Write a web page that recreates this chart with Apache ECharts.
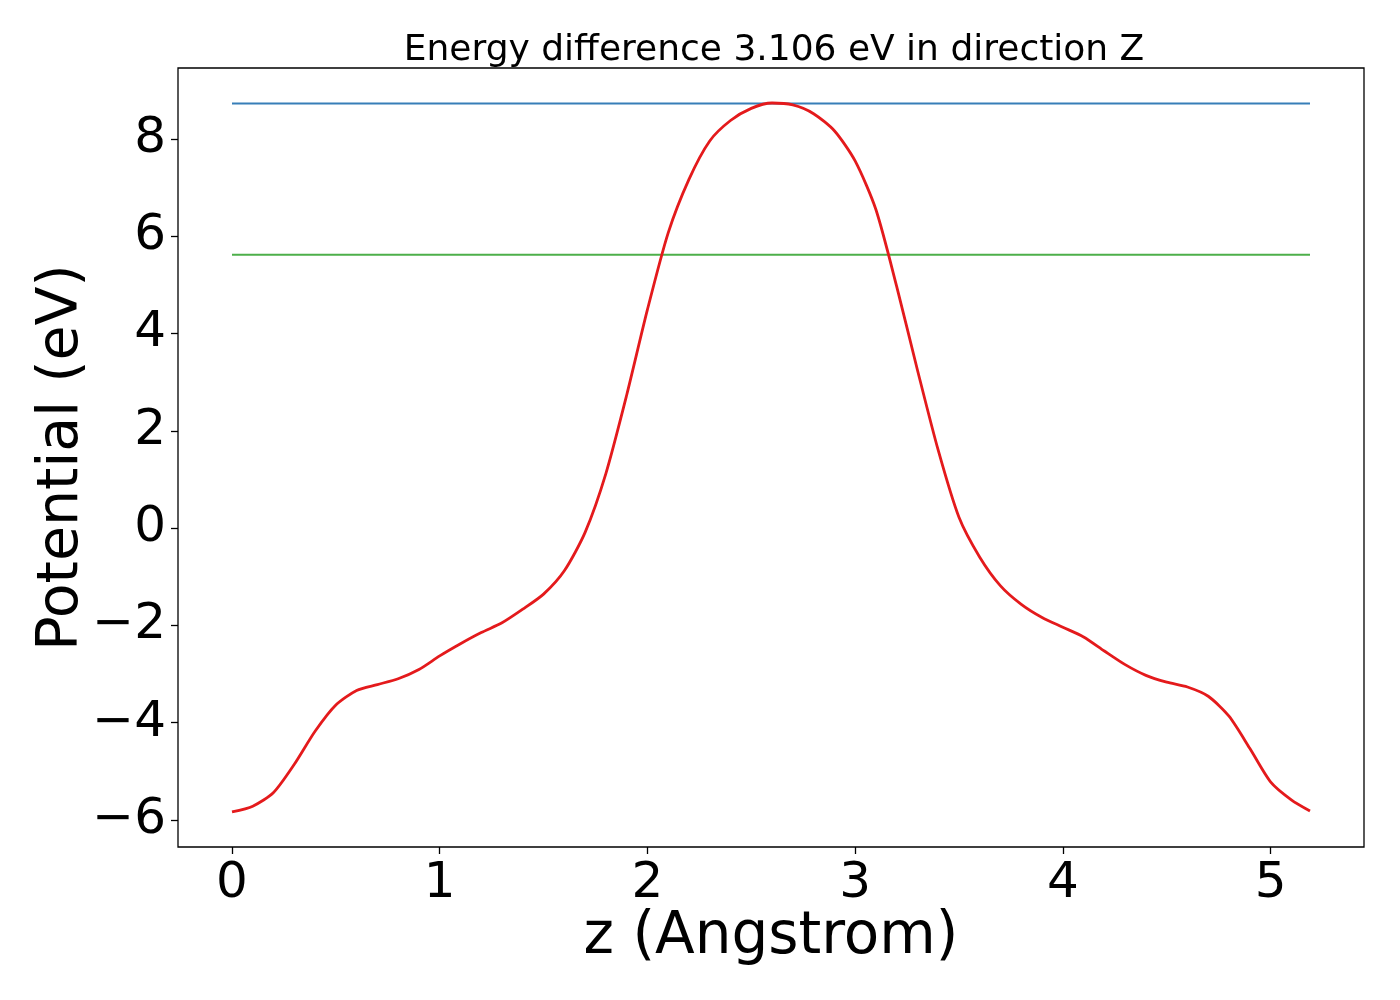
<!DOCTYPE html>
<html lang="en">
<head>
    <meta charset="UTF-8">
    <script type="text/javascript" src="https://cdn.jsdelivr.net/npm/echarts@6/dist/echarts.min.js"></script>
    <title>potential</title>
    <style>
        html, body { margin: 0; padding: 0; background: #fff; }
        #graph { width: 1400px; height: 1000px; }
    </style>
</head>
<body>
<div id="graph"></div>
<script type="text/javascript">
    // z positions (Angstrom) and averaged potential (eV)
    var zValues = [0, 0.1, 0.2, 0.3, 0.4, 0.5, 0.6, 0.7, 0.8, 0.9,
        1.0, 1.1, 1.2, 1.3, 1.4, 1.5, 1.6, 1.7, 1.8, 1.9,
        2.0, 2.1, 2.2, 2.3, 2.4, 2.5, 2.6, 2.7, 2.8, 2.9,
        3.0, 3.1, 3.2, 3.3, 3.4, 3.5, 3.6, 3.7, 3.8, 3.9,
        4.0, 4.1, 4.2, 4.3, 4.4, 4.5, 4.6, 4.7, 4.8, 4.9,
        5.0, 5.1, 5.19];
    var potential = [-5.84, -5.72, -5.44, -4.86, -4.18, -3.64, -3.34, -3.22, -3.10, -2.91,
        -2.63, -2.38, -2.15, -1.95, -1.67, -1.36, -0.88, -0.09, 1.12, 2.73,
        4.49, 6.07, 7.17, 7.96, 8.38, 8.63, 8.74, 8.70, 8.52, 8.17,
        7.55, 6.55, 4.97, 3.25, 1.60, 0.22, -0.60, -1.19, -1.57, -1.84,
        -2.04, -2.24, -2.53, -2.81, -3.03, -3.17, -3.27, -3.46, -3.87, -4.53,
        -5.22, -5.59, -5.82];
    // reference levels
    var maxLevel = 8.73;
    var lowLevel = 5.62;
    var levelRange = [0, 5.19];
    var xTicks = [0, 1, 2, 3, 4, 5];
    var yTicks = [-6, -4, -2, 0, 2, 4, 6, 8];

    var curve = zValues.map(function (z, i) { return [z, potential[i]]; });
    var maxLine = levelRange.map(function (z) { return [z, maxLevel]; });
    var lowLine = levelRange.map(function (z) { return [z, lowLevel]; });

    function minusFmt(v) {
        return v < 0 ? '\u2212' + Math.abs(v) : String(v);
    }

    var font = 'DejaVu Sans';
    var chart = echarts.init(document.getElementById('graph'), null, {renderer: 'canvas'});
    chart.setOption({
        backgroundColor: '#fff',
        animation: false,
        title: {
            text: 'Energy difference 3.106 eV in direction Z',
            left: 769,
            top: 28,
            textAlign: 'center',
            textStyle: {fontFamily: font, fontSize: 36, fontWeight: 'normal', color: '#000'}
        },
        grid: {
            left: 178, top: 68, right: 36, bottom: 153,
            outerBoundsMode: 'none',
            show: true, borderColor: '#000', borderWidth: 1.3
        },
        xAxis: {
            type: 'value',
            min: -0.26,
            max: 5.45,
            name: 'z (Angstrom)',
            nameLocation: 'middle',
            nameGap: 62,
            nameMoveOverlap: false,
            nameTextStyle: {fontFamily: font, fontSize: 58, color: '#000'},
            axisLine: {show: false, onZero: false},
            splitLine: {show: false},
            axisTick: {show: true, inside: false, length: 7, customValues: xTicks,
                lineStyle: {color: '#000', width: 1.3}},
            axisLabel: {customValues: xTicks, fontFamily: font, fontSize: 50, color: '#000', margin: 12,
                formatter: minusFmt}
        },
        yAxis: {
            type: 'value',
            min: -6.56,
            max: 9.46,
            name: 'Potential (eV)',
            nameLocation: 'middle',
            nameGap: 87,
            nameMoveOverlap: false,
            nameTextStyle: {fontFamily: font, fontSize: 57, color: '#000'},
            axisLine: {show: false, onZero: false},
            splitLine: {show: false},
            axisTick: {show: true, inside: false, length: 7, customValues: yTicks,
                lineStyle: {color: '#000', width: 1.3}},
            axisLabel: {customValues: yTicks, fontFamily: font, fontSize: 50, color: '#000', margin: 12,
                formatter: minusFmt}
        },
        series: [
            {
                type: 'line',
                data: maxLine,
                symbol: 'none',
                lineStyle: {color: '#377eb8', width: 2}
            },
            {
                type: 'line',
                data: lowLine,
                symbol: 'none',
                lineStyle: {color: '#4daf4a', width: 2}
            },
            {
                type: 'line',
                data: curve,
                symbol: 'none',
                smooth: 0.25,
                lineStyle: {color: '#e41a1c', width: 2.8}
            }
        ]
    });
</script>
</body>
</html>
